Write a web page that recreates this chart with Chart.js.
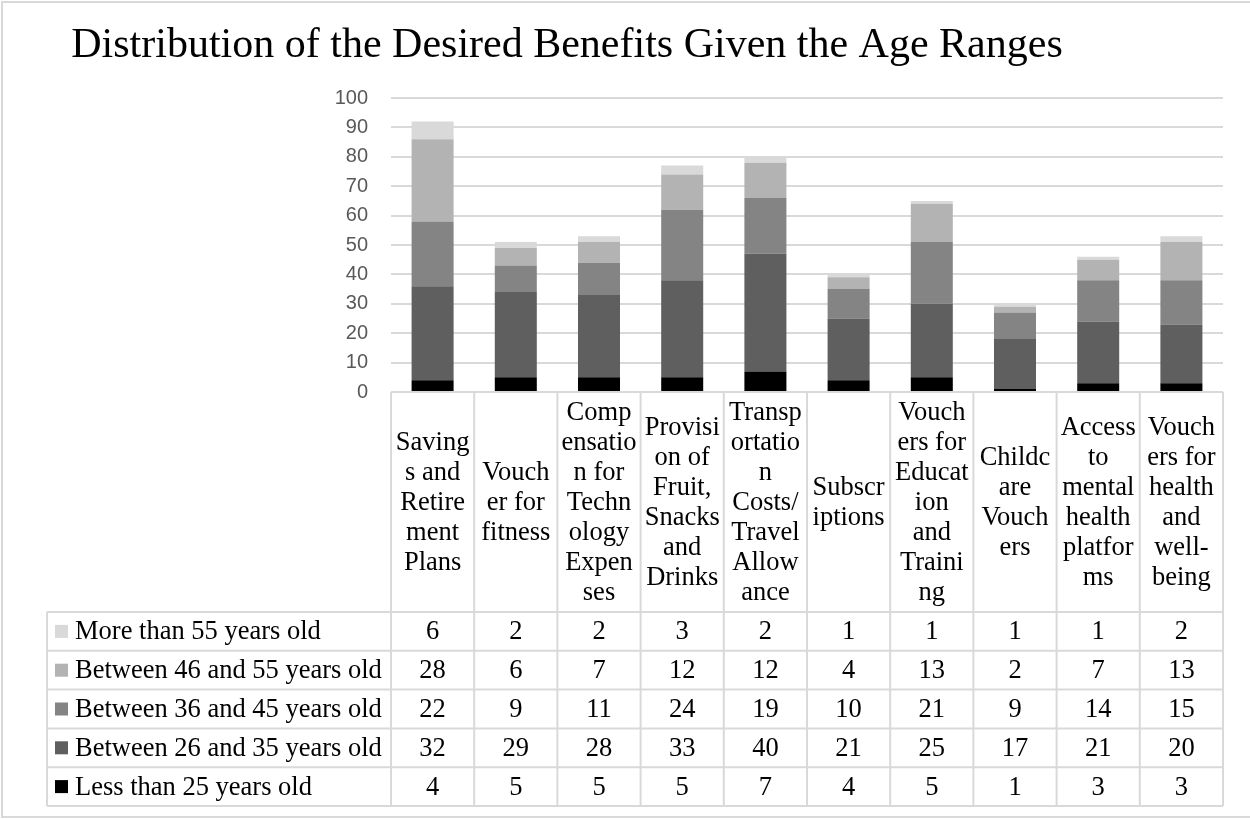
<!DOCTYPE html>
<html>
<head>
<meta charset="utf-8">
<script src="https://cdn.jsdelivr.net/npm/chart.js@4.4.1/dist/chart.umd.min.js"></script>
<style>
  html, body { margin: 0; padding: 0; background: #ffffff; }
  canvas { display: block; }
</style>
</head>
<body>
<canvas id="chart" width="1250" height="819"></canvas>
<script>
// ---- data ----
const chartTitle = 'Distribution of the Desired Benefits Given the Age Ranges';

// benefit names, wrapped the way they appear in the header cells
const categories = [
  ['Saving', 's and', 'Retire', 'ment', 'Plans'],
  ['Vouch', 'er for', 'fitness'],
  ['Comp', 'ensatio', 'n for', 'Techn', 'ology', 'Expen', 'ses'],
  ['Provisi', 'on of', 'Fruit,', 'Snacks', 'and', 'Drinks'],
  ['Transp', 'ortatio', 'n', 'Costs/', 'Travel', 'Allow', 'ance'],
  ['Subscr', 'iptions'],
  ['Vouch', 'ers for', 'Educat', 'ion', 'and', 'Traini', 'ng'],
  ['Childc', 'are', 'Vouch', 'ers'],
  ['Access', 'to', 'mental', 'health', 'platfor', 'ms'],
  ['Vouch', 'ers for', 'health', 'and', 'well-', 'being']
];

const ageGroups = [
  'Less than 25 years old',
  'Between 26 and 35 years old',
  'Between 36 and 45 years old',
  'Between 46 and 55 years old',
  'More than 55 years old'
];

const lessThan25 = [4, 5, 5, 5, 7, 4, 5, 1, 3, 3];
const from26to35 = [32, 29, 28, 33, 40, 21, 25, 17, 21, 20];
const from36to45 = [22, 9, 11, 24, 19, 10, 21, 9, 14, 15];
const from46to55 = [28, 6, 7, 12, 12, 4, 13, 2, 7, 13];
const moreThan55 = [6, 2, 2, 3, 2, 1, 1, 1, 1, 2];

const yTickValues = [0, 10, 20, 30, 40, 50, 60, 70, 80, 90, 100];

const groupColors = ['#000000', '#5f5f5f', '#848484', '#b3b3b3', '#d9d9d9'];
const seriesValues = [lessThan25, from26to35, from36to45, from46to55, moreThan55];

// ---- drawing helpers ----
const SERIF = '"Liberation Serif", "Times New Roman", serif';
const LINE = '#d9d9d9';

// title, frame and the data table under the plot
const tablePlugin = {
  id: 'dataTable',
  afterDraw(chart) {
    const ctx = chart.ctx;
    const area = chart.chartArea;
    const xs = chart.scales.x;
    const n = categories.length;
    const colW = (area.right - area.left) / n;
    const headTop = area.bottom;
    const headBottom = 612;
    const rowH = 38.8;
    const tableLeft = 47;
    const rows = ageGroups.length;
    const tableBottom = headBottom + rows * rowH;

    ctx.save();

    // outer frame
    ctx.strokeStyle = LINE;
    ctx.lineWidth = 2;
    ctx.strokeRect(2, 2, 1260, 815);

    // title
    ctx.fillStyle = '#000000';
    ctx.font = '42px ' + SERIF;
    ctx.textAlign = 'center';
    ctx.textBaseline = 'alphabetic';
    ctx.fillText(chartTitle, 567, 57);

    // grid of the table
    ctx.strokeStyle = LINE;
    ctx.lineWidth = 2;
    ctx.beginPath();
    ctx.moveTo(area.left, headTop);
    ctx.lineTo(area.right, headTop);
    for (let r = 0; r <= rows; r++) {
      const y = headBottom + r * rowH;
      ctx.moveTo(tableLeft, y);
      ctx.lineTo(area.right, y);
    }
    ctx.moveTo(tableLeft, headBottom);
    ctx.lineTo(tableLeft, tableBottom);
    for (let i = 0; i <= n; i++) {
      const x = area.left + i * colW;
      ctx.moveTo(x, headTop);
      ctx.lineTo(x, tableBottom);
    }
    ctx.stroke();

    // header: category names
    ctx.fillStyle = '#000000';
    ctx.font = '26.5px ' + SERIF;
    ctx.textAlign = 'center';
    ctx.textBaseline = 'middle';
    const lineH = 30;
    const headMid = (headTop + headBottom) / 2;
    categories.forEach((lines, i) => {
      const cx = xs.getPixelForValue(i);
      const y0 = headMid - (lines.length - 1) * lineH / 2;
      lines.forEach((t, k) => ctx.fillText(t, cx, y0 + k * lineH + 1));
    });

    // body rows: oldest group first
    for (let r = 0; r < rows; r++) {
      const s = rows - 1 - r;
      const yMid = headBottom + r * rowH + rowH / 2;
      ctx.fillStyle = groupColors[s];
      ctx.fillRect(55, yMid - 6.5, 13, 13);
      ctx.fillStyle = '#000000';
      ctx.textAlign = 'left';
      ctx.fillText(ageGroups[s], 75, yMid + 1);
      ctx.textAlign = 'center';
      seriesValues[s].forEach((v, i) => {
        ctx.fillText(String(v), xs.getPixelForValue(i), yMid + 1);
      });
    }

    ctx.restore();
  }
};

function build() {
  new Chart(document.getElementById('chart'), {
    type: 'bar',
    data: {
      labels: categories.map(l => l.join(' ')),
      datasets: ageGroups.map((name, s) => ({
        label: name,
        data: seriesValues[s],
        backgroundColor: groupColors[s],
        borderWidth: 0,
        categoryPercentage: 1,
        barPercentage: 0.505
      }))
    },
    options: {
      responsive: false,
      animation: false,
      devicePixelRatio: 1,
      layout: { padding: { left: 0, top: 98, right: 27, bottom: 427 } },
      plugins: {
        legend: { display: false },
        tooltip: { enabled: false },
        title: { display: false }
      },
      scales: {
        x: { stacked: true, display: false },
        y: {
          stacked: true,
          min: 0,
          max: 100,
          afterFit(scale) { scale.width = 391; },
          afterBuildTicks(scale) { scale.ticks = yTickValues.map(v => ({ value: v })); },
          border: { display: false },
          grid: { color: LINE, lineWidth: 2, drawTicks: false },
          ticks: {
            padding: 23,
            color: '#595959',
            font: { family: '"Liberation Sans", Arial, sans-serif', size: 20 }
          }
        }
      }
    },
    plugins: [tablePlugin]
  });
}

if (document.fonts && document.fonts.load) {
  Promise.all([
    document.fonts.load('26px "Liberation Serif"'),
    document.fonts.load('20px "Liberation Sans"')
  ]).then(build, build);
} else {
  build();
}
</script>
</body>
</html>
